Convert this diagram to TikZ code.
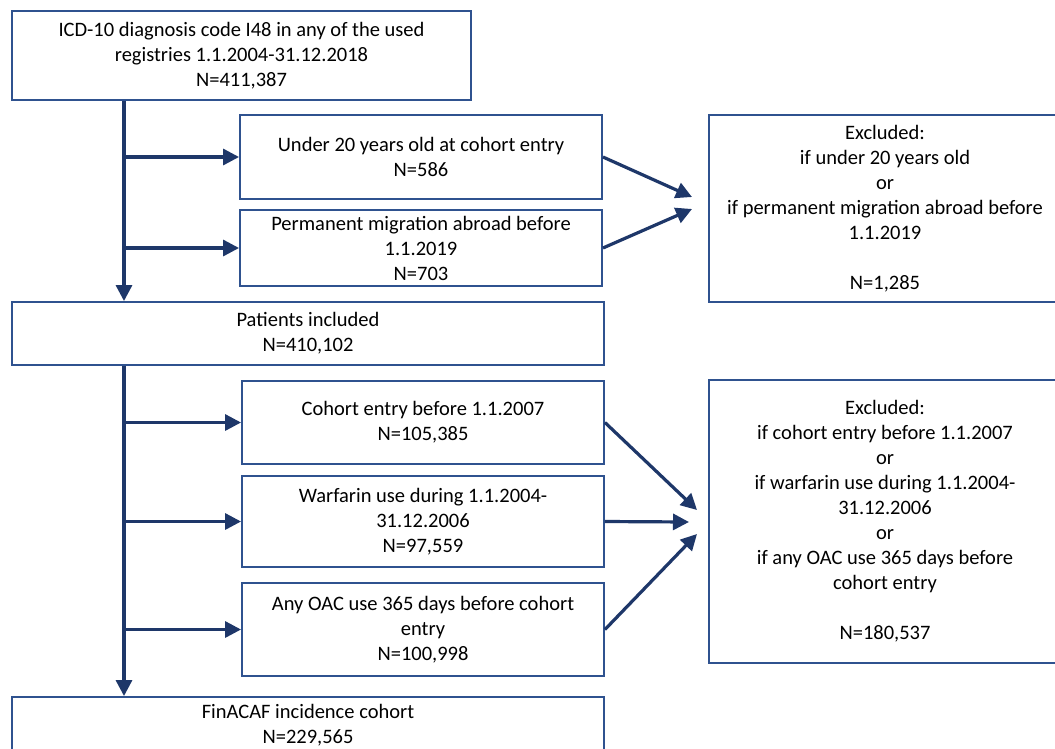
\documentclass[tikz,border=0pt]{standalone}
\usepackage{fontspec}
\setmainfont{Carlito}
\usetikzlibrary{arrows.meta}
\definecolor{boxc}{RGB}{47,82,143}
\definecolor{arrc}{RGB}{30,55,105}
\begin{document}
\begin{tikzpicture}[x=1pt,y=-1pt,
  box/.style={draw=boxc, line width=1.9pt, fill=white, align=center, inner sep=0pt,
    font=\fontsize{20.5}{25}\selectfont},
  arr/.style={draw=arrc, line width=3.2pt, -{Triangle[length=16pt,width=16pt]}}]
\clip (0,0) rectangle (1055,748);
\fill[white] (0,0) rectangle (1055,748);
\node[box, minimum width=459pt, minimum height=89pt] (b1) at (241.5,55.5)
  {ICD-10 diagnosis code I48 in any of the used\\registries 1.1.2004-31.12.2018\\N=411,387};
\node[box, minimum width=362pt, minimum height=84pt] (u20) at (421,157)
  {Under 20 years old at cohort entry\\N=586};
\node[box, minimum width=362pt, minimum height=76pt] (pm) at (421,248)
  {Permanent migration abroad before\\1.1.2019\\N=703};
\node[box, minimum width=352pt, minimum height=187pt] (ex1) at (885,208.5)
  {Excluded:\\if under 20 years old\\or\\if permanent migration abroad before\\1.1.2019\\[25pt]N=1,285};
\node[box, minimum width=592pt, minimum height=63pt] (pat) at (308,333.5)
  {Patients included\\N=410,102};
\node[box, minimum width=362pt, minimum height=83pt] (coh) at (423,422.5)
  {Cohort entry before 1.1.2007\\N=105,385};
\node[box, minimum width=362pt, minimum height=91pt] (war) at (423,521.5)
  {Warfarin use during 1.1.2004-\\31.12.2006\\N=97,559};
\node[box, minimum width=362pt, minimum height=93pt] (oac) at (423,629.5)
  {Any OAC use 365 days before cohort\\entry\\N=100,998};
\node[box, minimum width=352pt, minimum height=283pt] (ex2) at (885,521.5)
  {Excluded:\\if cohort entry before 1.1.2007\\or\\if warfarin use during 1.1.2004-\\31.12.2006\\or\\if any OAC use 365 days before\\cohort entry\\[25pt]N=180,537};
\node[box, minimum width=592pt, minimum height=56pt] (fin) at (308,725)
  {FinACAF incidence cohort\\N=229,565};
\coordinate (t1) at (124,0);
\coordinate (tipA) at (692,197);
\coordinate (tipB) at (692,209);
\coordinate (tipC) at (697,510);
\coordinate (tipD) at (689,522);
\coordinate (tipE) at (697,534);
% trunks
\draw[arr] (b1.south -| t1) -- (pat.north -| t1);
\draw[arr] (pat.south -| t1) -- (fin.north -| t1);
% branches
\draw[arr] (t1 |- u20.west) -- (u20.west);
\draw[arr] (t1 |- pm.west) -- (pm.west);
\draw[arr] (t1 |- coh.west) -- (coh.west);
\draw[arr] (t1 |- war.west) -- (war.west);
\draw[arr] (t1 |- oac.west) -- (oac.west);
% to exclusion boxes
\draw[arr] (u20.east) -- (tipA);
\draw[arr] (pm.east) -- (tipB);
\draw[arr] (coh.east) -- (tipC);
\draw[arr] (war.east) -- (tipD);
\draw[arr] (oac.east) -- (tipE);
\end{tikzpicture}
\end{document}
